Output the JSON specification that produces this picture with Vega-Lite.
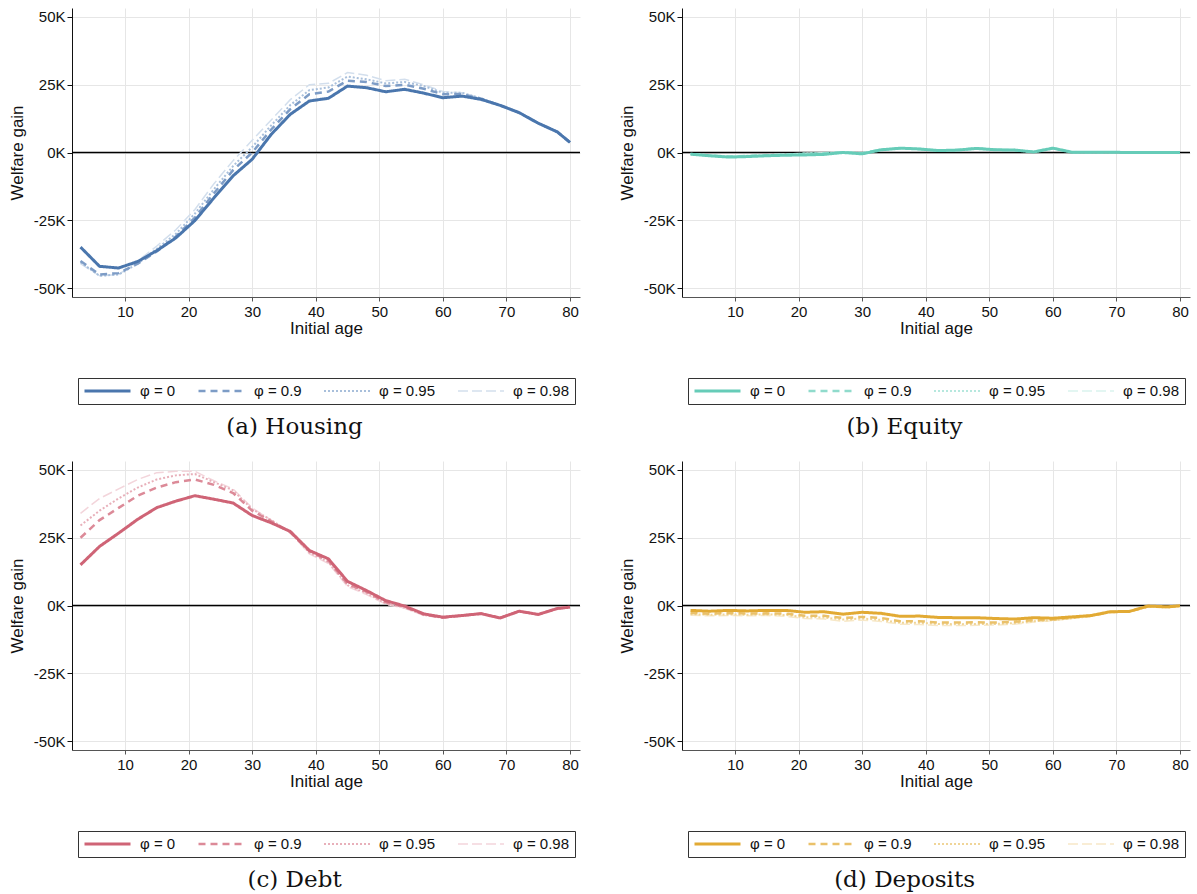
{
  "$schema": "https://vega.github.io/schema/vega-lite/v6.json",
  "background": "white",
  "padding": {"left": 8, "top": 8, "right": 5, "bottom": 0},
  "config": {
    "font": "Liberation Sans",
    "view": {"stroke": null},
    "axis": {
      "labelFontSize": 15,
      "titleFontSize": 17,
      "titleFontWeight": "normal",
      "labelColor": "#111",
      "titleColor": "#111",
      "gridColor": "#e6e6e6",
      "gridWidth": 1
    },
    "legend": {
      "orient": "bottom",
      "direction": "horizontal",
      "layout": {"anchor": "middle"},
      "strokeColor": "#333",
      "strokeWidth": 1,
      "padding": 5,
      "offset": 42,
      "symbolType": "stroke",
      "symbolSize": 2116,
      "clipHeight": 16,
      "labelFontSize": 15,
      "labelColor": "#111",
      "labelOffset": 8,
      "columnPadding": 21,
      "cornerRadius": 0
    },
    "title": {
      "orient": "bottom",
      "anchor": "middle",
      "frame": "bounds",
      "font": "DejaVu Serif",
      "fontSize": 23,
      "fontWeight": "normal",
      "color": "#111",
      "offset": 11
    }
  },
  "data": {
    "values": [
      {"p": "a", "age": 3, "s0": -34.9, "s90": -40.0, "s95": -40.5, "s98": -41.0},
      {"p": "a", "age": 6, "s0": -42.0, "s90": -45.0, "s95": -45.5, "s98": -45.5},
      {"p": "a", "age": 9, "s0": -42.6, "s90": -44.5, "s95": -45.0, "s98": -45.0},
      {"p": "a", "age": 12, "s0": -40.2, "s90": -41.0, "s95": -41.0, "s98": -40.0},
      {"p": "a", "age": 15, "s0": -36.2, "s90": -36.5, "s95": -35.5, "s98": -34.5},
      {"p": "a", "age": 18, "s0": -31.5, "s90": -31.0, "s95": -30.0, "s98": -28.5},
      {"p": "a", "age": 21, "s0": -25.1, "s90": -24.0, "s95": -22.5, "s98": -21.0},
      {"p": "a", "age": 24, "s0": -16.7, "s90": -15.0, "s95": -13.5, "s98": -11.5},
      {"p": "a", "age": 27, "s0": -8.6, "s90": -6.5, "s95": -5.0, "s98": -3.0},
      {"p": "a", "age": 30, "s0": -2.5, "s90": 0.0, "s95": 2.0, "s98": 4.5},
      {"p": "a", "age": 33, "s0": 6.7, "s90": 8.5, "s95": 10.0, "s98": 12.0},
      {"p": "a", "age": 36, "s0": 14.1, "s90": 16.0, "s95": 17.5, "s98": 19.5},
      {"p": "a", "age": 39, "s0": 19.0, "s90": 21.5, "s95": 23.0, "s98": 25.0},
      {"p": "a", "age": 42, "s0": 20.0, "s90": 22.5, "s95": 24.0, "s98": 25.5},
      {"p": "a", "age": 45, "s0": 24.5, "s90": 26.5, "s95": 28.0, "s98": 29.5},
      {"p": "a", "age": 48, "s0": 23.9, "s90": 26.0, "s95": 27.0, "s98": 28.5},
      {"p": "a", "age": 51, "s0": 22.4, "s90": 24.5, "s95": 25.5, "s98": 26.5},
      {"p": "a", "age": 54, "s0": 23.3, "s90": 25.0, "s95": 26.0, "s98": 27.0},
      {"p": "a", "age": 57, "s0": 21.9, "s90": 23.5, "s95": 24.5, "s98": 25.0},
      {"p": "a", "age": 60, "s0": 20.2, "s90": 21.5, "s95": 22.0, "s98": 22.5},
      {"p": "a", "age": 63, "s0": 20.8, "s90": 21.5, "s95": 22.0, "s98": 22.0},
      {"p": "a", "age": 66, "s0": 19.6, "s90": 19.8, "s95": 20.0, "s98": 20.0},
      {"p": "a", "age": 69, "s0": 17.4, "s90": 17.4, "s95": 17.4, "s98": 17.4},
      {"p": "a", "age": 72, "s0": 14.7, "s90": 14.7, "s95": 14.7, "s98": 14.7},
      {"p": "a", "age": 75, "s0": 10.8, "s90": 10.8, "s95": 10.8, "s98": 10.8},
      {"p": "a", "age": 78, "s0": 7.6, "s90": 7.6, "s95": 7.6, "s98": 7.6},
      {"p": "a", "age": 80, "s0": 3.7, "s90": 3.7, "s95": 3.7, "s98": 3.7},

      {"p": "b", "age": 3, "s0": -0.6, "s90": -0.6, "s95": -0.5, "s98": -0.5},
      {"p": "b", "age": 6, "s0": -1.2, "s90": -1.1, "s95": -1.0, "s98": -1.0},
      {"p": "b", "age": 9, "s0": -1.7, "s90": -1.5, "s95": -1.4, "s98": -1.3},
      {"p": "b", "age": 12, "s0": -1.5, "s90": -1.3, "s95": -1.2, "s98": -1.1},
      {"p": "b", "age": 15, "s0": -1.2, "s90": -1.0, "s95": -0.9, "s98": -0.8},
      {"p": "b", "age": 18, "s0": -1.0, "s90": -0.8, "s95": -0.7, "s98": -0.6},
      {"p": "b", "age": 21, "s0": -0.9, "s90": -0.5, "s95": -0.4, "s98": -0.3},
      {"p": "b", "age": 24, "s0": -0.7, "s90": -0.3, "s95": -0.2, "s98": -0.1},
      {"p": "b", "age": 27, "s0": 0.0, "s90": 0.1, "s95": 0.1, "s98": 0.2},
      {"p": "b", "age": 30, "s0": -0.5, "s90": -0.3, "s95": -0.2, "s98": -0.1},
      {"p": "b", "age": 33, "s0": 1.0, "s90": 1.0, "s95": 1.1, "s98": 1.1},
      {"p": "b", "age": 36, "s0": 1.6, "s90": 1.6, "s95": 1.6, "s98": 1.6},
      {"p": "b", "age": 39, "s0": 1.3, "s90": 1.3, "s95": 1.3, "s98": 1.3},
      {"p": "b", "age": 42, "s0": 0.7, "s90": 0.7, "s95": 0.7, "s98": 0.7},
      {"p": "b", "age": 45, "s0": 0.9, "s90": 0.9, "s95": 0.9, "s98": 0.9},
      {"p": "b", "age": 48, "s0": 1.5, "s90": 1.5, "s95": 1.5, "s98": 1.5},
      {"p": "b", "age": 51, "s0": 1.0, "s90": 1.0, "s95": 1.0, "s98": 1.0},
      {"p": "b", "age": 54, "s0": 0.9, "s90": 0.9, "s95": 0.9, "s98": 0.9},
      {"p": "b", "age": 57, "s0": 0.2, "s90": 0.2, "s95": 0.2, "s98": 0.2},
      {"p": "b", "age": 60, "s0": 1.6, "s90": 1.6, "s95": 1.6, "s98": 1.6},
      {"p": "b", "age": 63, "s0": 0.1, "s90": 0.1, "s95": 0.1, "s98": 0.1},
      {"p": "b", "age": 66, "s0": 0.1, "s90": 0.1, "s95": 0.1, "s98": 0.1},
      {"p": "b", "age": 69, "s0": 0.1, "s90": 0.1, "s95": 0.1, "s98": 0.1},
      {"p": "b", "age": 72, "s0": 0.0, "s90": 0.0, "s95": 0.0, "s98": 0.0},
      {"p": "b", "age": 75, "s0": 0.0, "s90": 0.0, "s95": 0.0, "s98": 0.0},
      {"p": "b", "age": 78, "s0": 0.0, "s90": 0.0, "s95": 0.0, "s98": 0.0},
      {"p": "b", "age": 80, "s0": 0.0, "s90": 0.0, "s95": 0.0, "s98": 0.0},

      {"p": "c", "age": 3, "s0": 15.0, "s90": 25.0, "s95": 29.5, "s98": 34.0},
      {"p": "c", "age": 6, "s0": 21.8, "s90": 31.5, "s95": 35.0, "s98": 39.5},
      {"p": "c", "age": 9, "s0": 26.7, "s90": 36.0, "s95": 39.5, "s98": 43.0},
      {"p": "c", "age": 12, "s0": 31.8, "s90": 40.5, "s95": 43.5, "s98": 46.5},
      {"p": "c", "age": 15, "s0": 36.1, "s90": 43.5, "s95": 46.5, "s98": 49.0},
      {"p": "c", "age": 18, "s0": 38.5, "s90": 45.5, "s95": 48.0, "s98": 49.5},
      {"p": "c", "age": 21, "s0": 40.5, "s90": 46.5, "s95": 48.5, "s98": 49.5},
      {"p": "c", "age": 24, "s0": 39.2, "s90": 44.5, "s95": 45.5, "s98": 46.0},
      {"p": "c", "age": 27, "s0": 37.8, "s90": 41.5, "s95": 42.5, "s98": 43.0},
      {"p": "c", "age": 30, "s0": 33.2, "s90": 35.0, "s95": 35.5, "s98": 36.0},
      {"p": "c", "age": 33, "s0": 30.5, "s90": 31.0, "s95": 31.5, "s98": 31.5},
      {"p": "c", "age": 36, "s0": 27.3, "s90": 27.0, "s95": 27.0, "s98": 27.0},
      {"p": "c", "age": 39, "s0": 20.3, "s90": 20.0, "s95": 19.5, "s98": 19.0},
      {"p": "c", "age": 42, "s0": 17.2, "s90": 16.5, "s95": 16.0, "s98": 15.5},
      {"p": "c", "age": 45, "s0": 8.9, "s90": 8.0, "s95": 7.5, "s98": 7.0},
      {"p": "c", "age": 48, "s0": 5.5, "s90": 5.0, "s95": 4.5, "s98": 4.0},
      {"p": "c", "age": 51, "s0": 1.8, "s90": 1.2, "s95": 0.8, "s98": 0.5},
      {"p": "c", "age": 54, "s0": -0.2, "s90": -0.5, "s95": -0.8, "s98": -1.0},
      {"p": "c", "age": 57, "s0": -3.1, "s90": -3.3, "s95": -3.5, "s98": -3.7},
      {"p": "c", "age": 60, "s0": -4.3, "s90": -4.5, "s95": -4.5, "s98": -4.6},
      {"p": "c", "age": 63, "s0": -3.7, "s90": -3.7, "s95": -3.7, "s98": -3.7},
      {"p": "c", "age": 66, "s0": -3.0, "s90": -3.0, "s95": -3.0, "s98": -3.0},
      {"p": "c", "age": 69, "s0": -4.6, "s90": -4.6, "s95": -4.6, "s98": -4.6},
      {"p": "c", "age": 72, "s0": -2.1, "s90": -2.1, "s95": -2.1, "s98": -2.1},
      {"p": "c", "age": 75, "s0": -3.3, "s90": -3.3, "s95": -3.3, "s98": -3.3},
      {"p": "c", "age": 78, "s0": -1.1, "s90": -1.1, "s95": -1.1, "s98": -1.1},
      {"p": "c", "age": 80, "s0": -0.6, "s90": -0.6, "s95": -0.6, "s98": -0.6},

      {"p": "d", "age": 3, "s0": -1.8, "s90": -2.8, "s95": -3.2, "s98": -3.6},
      {"p": "d", "age": 6, "s0": -2.1, "s90": -3.0, "s95": -3.4, "s98": -3.8},
      {"p": "d", "age": 9, "s0": -1.8, "s90": -2.8, "s95": -3.3, "s98": -3.7},
      {"p": "d", "age": 12, "s0": -2.0, "s90": -3.0, "s95": -3.4, "s98": -3.8},
      {"p": "d", "age": 15, "s0": -1.8, "s90": -2.9, "s95": -3.3, "s98": -3.7},
      {"p": "d", "age": 18, "s0": -1.8, "s90": -3.0, "s95": -3.5, "s98": -4.0},
      {"p": "d", "age": 21, "s0": -2.5, "s90": -3.8, "s95": -4.3, "s98": -4.8},
      {"p": "d", "age": 24, "s0": -2.3, "s90": -3.8, "s95": -4.4, "s98": -5.0},
      {"p": "d", "age": 27, "s0": -3.2, "s90": -4.6, "s95": -5.2, "s98": -5.8},
      {"p": "d", "age": 30, "s0": -2.5, "s90": -4.2, "s95": -4.8, "s98": -5.4},
      {"p": "d", "age": 33, "s0": -2.9, "s90": -4.6, "s95": -5.3, "s98": -5.9},
      {"p": "d", "age": 36, "s0": -4.0, "s90": -5.8, "s95": -6.4, "s98": -6.9},
      {"p": "d", "age": 39, "s0": -3.9, "s90": -5.8, "s95": -6.4, "s98": -7.0},
      {"p": "d", "age": 42, "s0": -4.4, "s90": -6.3, "s95": -6.8, "s98": -7.4},
      {"p": "d", "age": 45, "s0": -4.5, "s90": -6.3, "s95": -6.9, "s98": -7.4},
      {"p": "d", "age": 48, "s0": -4.5, "s90": -6.2, "s95": -6.8, "s98": -7.3},
      {"p": "d", "age": 51, "s0": -4.8, "s90": -6.3, "s95": -6.8, "s98": -7.2},
      {"p": "d", "age": 54, "s0": -5.0, "s90": -6.0, "s95": -6.5, "s98": -6.9},
      {"p": "d", "age": 57, "s0": -4.5, "s90": -5.4, "s95": -5.8, "s98": -6.1},
      {"p": "d", "age": 60, "s0": -4.7, "s90": -5.2, "s95": -5.4, "s98": -5.6},
      {"p": "d", "age": 63, "s0": -4.2, "s90": -4.5, "s95": -4.7, "s98": -4.8},
      {"p": "d", "age": 66, "s0": -3.7, "s90": -3.8, "s95": -3.9, "s98": -4.0},
      {"p": "d", "age": 69, "s0": -2.3, "s90": -2.4, "s95": -2.5, "s98": -2.5},
      {"p": "d", "age": 72, "s0": -2.2, "s90": -2.2, "s95": -2.3, "s98": -2.3},
      {"p": "d", "age": 75, "s0": -0.2, "s90": -0.3, "s95": -0.4, "s98": -0.5},
      {"p": "d", "age": 78, "s0": -0.5, "s90": -0.6, "s95": -0.7, "s98": -0.8},
      {"p": "d", "age": 80, "s0": -0.1, "s90": -0.2, "s95": -0.2, "s98": -0.3}
    ]
  },
  "vconcat": [
    {
      "hconcat": [
        {
          "title": "(a) Housing",
          "width": 508,
          "height": 289,
          "layer": [
            {
              "data": {"values": [{"zero": 0}]},
              "mark": {"type": "rule", "color": "black", "strokeWidth": 1.6},
              "encoding": {"y": {"field": "zero", "type": "quantitative"}}
            },
            {
              "transform": [
                {"filter": "datum.p == 'a'"},
                {"fold": ["s98", "s95", "s90", "s0"], "as": ["phi", "g"]}
              ],
              "mark": {"type": "line"},
              "encoding": {
                "x": {"field": "age", "type": "quantitative", "scale": {"domain": [1.66, 81.57], "nice": false, "zero": false},
                  "axis": {"title": "Initial age", "values": [10, 20, 30, 40, 50, 60, 70, 80], "grid": true, "domainColor": "#555", "tickColor": "#555", "tickSize": 4, "labelPadding": 3, "titlePadding": 1}},
                "y": {"field": "g", "type": "quantitative", "scale": {"domain": [-53.3, 53.3], "nice": false},
                  "axis": {"title": "Welfare gain", "values": [-50, -25, 0, 25, 50], "labelExpr": "datum.value + 'K'", "grid": true, "domainColor": "#111", "tickColor": "#111", "tickSize": 5, "labelPadding": 2, "titlePadding": 7}},
                "color": {"field": "phi", "type": "nominal", "scale": {"domain": ["s0", "s90", "s95", "s98"], "range": ["#4a76ad", "#7d9cc6", "#a8bfdb", "#d3dfed"]},
                  "legend": {"title": null, "labelExpr": "datum.label == 's0' ? 'φ = 0' : datum.label == 's90' ? 'φ = 0.9' : datum.label == 's95' ? 'φ = 0.95' : 'φ = 0.98'"}},
                "strokeDash": {"field": "phi", "type": "nominal", "scale": {"domain": ["s0", "s90", "s95", "s98"], "range": [[1, 0], [7, 5], [2, 2], [10, 4]]},
                  "legend": {"title": null, "labelExpr": "datum.label == 's0' ? 'φ = 0' : datum.label == 's90' ? 'φ = 0.9' : datum.label == 's95' ? 'φ = 0.95' : 'φ = 0.98'"}},
                "strokeWidth": {"field": "phi", "type": "nominal", "scale": {"domain": ["s0", "s90", "s95", "s98"], "range": [3, 1.5, 1.5, 1.5]},
                  "legend": {"title": null, "labelExpr": "datum.label == 's0' ? 'φ = 0' : datum.label == 's90' ? 'φ = 0.9' : datum.label == 's95' ? 'φ = 0.95' : 'φ = 0.98'"}}
              }
            }
          ]
        },
        {
          "title": "(b) Equity",
          "width": 508,
          "height": 289,
          "layer": [
            {
              "data": {"values": [{"zero": 0}]},
              "mark": {"type": "rule", "color": "black", "strokeWidth": 1.6},
              "encoding": {"y": {"field": "zero", "type": "quantitative"}}
            },
            {
              "transform": [
                {"filter": "datum.p == 'b'"},
                {"fold": ["s98", "s95", "s90", "s0"], "as": ["phi", "g"]}
              ],
              "mark": {"type": "line"},
              "encoding": {
                "x": {"field": "age", "type": "quantitative", "scale": {"domain": [1.66, 81.57], "nice": false, "zero": false},
                  "axis": {"title": "Initial age", "values": [10, 20, 30, 40, 50, 60, 70, 80], "grid": true, "domainColor": "#555", "tickColor": "#555", "tickSize": 4, "labelPadding": 3, "titlePadding": 1}},
                "y": {"field": "g", "type": "quantitative", "scale": {"domain": [-53.3, 53.3], "nice": false},
                  "axis": {"title": "Welfare gain", "values": [-50, -25, 0, 25, 50], "labelExpr": "datum.value + 'K'", "grid": true, "domainColor": "#111", "tickColor": "#111", "tickSize": 5, "labelPadding": 2, "titlePadding": 7}},
                "color": {"field": "phi", "type": "nominal", "scale": {"domain": ["s0", "s90", "s95", "s98"], "range": ["#66ccb8", "#90dbcc", "#b6e8de", "#daf3ee"]},
                  "legend": {"title": null, "labelExpr": "datum.label == 's0' ? 'φ = 0' : datum.label == 's90' ? 'φ = 0.9' : datum.label == 's95' ? 'φ = 0.95' : 'φ = 0.98'"}},
                "strokeDash": {"field": "phi", "type": "nominal", "scale": {"domain": ["s0", "s90", "s95", "s98"], "range": [[1, 0], [7, 5], [2, 2], [10, 4]]},
                  "legend": {"title": null, "labelExpr": "datum.label == 's0' ? 'φ = 0' : datum.label == 's90' ? 'φ = 0.9' : datum.label == 's95' ? 'φ = 0.95' : 'φ = 0.98'"}},
                "strokeWidth": {"field": "phi", "type": "nominal", "scale": {"domain": ["s0", "s90", "s95", "s98"], "range": [3, 1.5, 1.5, 1.5]},
                  "legend": {"title": null, "labelExpr": "datum.label == 's0' ? 'φ = 0' : datum.label == 's90' ? 'φ = 0.9' : datum.label == 's95' ? 'φ = 0.95' : 'φ = 0.98'"}}
              }
            }
          ]
        }
      ],
      "spacing": 37,
      "resolve": {"scale": {"x": "independent", "y": "independent", "color": "independent", "strokeDash": "independent", "strokeWidth": "independent"}, "legend": {"color": "independent", "strokeDash": "independent", "strokeWidth": "independent"}}
    },
    {
      "hconcat": [
        {
          "title": "(c) Debt",
          "width": 508,
          "height": 289,
          "layer": [
            {
              "data": {"values": [{"zero": 0}]},
              "mark": {"type": "rule", "color": "black", "strokeWidth": 1.6},
              "encoding": {"y": {"field": "zero", "type": "quantitative"}}
            },
            {
              "transform": [
                {"filter": "datum.p == 'c'"},
                {"fold": ["s98", "s95", "s90", "s0"], "as": ["phi", "g"]}
              ],
              "mark": {"type": "line"},
              "encoding": {
                "x": {"field": "age", "type": "quantitative", "scale": {"domain": [1.66, 81.57], "nice": false, "zero": false},
                  "axis": {"title": "Initial age", "values": [10, 20, 30, 40, 50, 60, 70, 80], "grid": true, "domainColor": "#555", "tickColor": "#555", "tickSize": 4, "labelPadding": 3, "titlePadding": 1}},
                "y": {"field": "g", "type": "quantitative", "scale": {"domain": [-53.3, 53.3], "nice": false},
                  "axis": {"title": "Welfare gain", "values": [-50, -25, 0, 25, 50], "labelExpr": "datum.value + 'K'", "grid": true, "domainColor": "#111", "tickColor": "#111", "tickSize": 5, "labelPadding": 2, "titlePadding": 7}},
                "color": {"field": "phi", "type": "nominal", "scale": {"domain": ["s0", "s90", "s95", "s98"], "range": ["#cf6476", "#dc8a98", "#e8b0ba", "#f3d5db"]},
                  "legend": {"title": null, "labelExpr": "datum.label == 's0' ? 'φ = 0' : datum.label == 's90' ? 'φ = 0.9' : datum.label == 's95' ? 'φ = 0.95' : 'φ = 0.98'"}},
                "strokeDash": {"field": "phi", "type": "nominal", "scale": {"domain": ["s0", "s90", "s95", "s98"], "range": [[1, 0], [7, 5], [2, 2], [10, 4]]},
                  "legend": {"title": null, "labelExpr": "datum.label == 's0' ? 'φ = 0' : datum.label == 's90' ? 'φ = 0.9' : datum.label == 's95' ? 'φ = 0.95' : 'φ = 0.98'"}},
                "strokeWidth": {"field": "phi", "type": "nominal", "scale": {"domain": ["s0", "s90", "s95", "s98"], "range": [3, 1.5, 1.5, 1.5]},
                  "legend": {"title": null, "labelExpr": "datum.label == 's0' ? 'φ = 0' : datum.label == 's90' ? 'φ = 0.9' : datum.label == 's95' ? 'φ = 0.95' : 'φ = 0.98'"}}
              }
            }
          ]
        },
        {
          "title": "(d) Deposits",
          "width": 508,
          "height": 289,
          "layer": [
            {
              "data": {"values": [{"zero": 0}]},
              "mark": {"type": "rule", "color": "black", "strokeWidth": 1.6},
              "encoding": {"y": {"field": "zero", "type": "quantitative"}}
            },
            {
              "transform": [
                {"filter": "datum.p == 'd'"},
                {"fold": ["s98", "s95", "s90", "s0"], "as": ["phi", "g"]}
              ],
              "mark": {"type": "line"},
              "encoding": {
                "x": {"field": "age", "type": "quantitative", "scale": {"domain": [1.66, 81.57], "nice": false, "zero": false},
                  "axis": {"title": "Initial age", "values": [10, 20, 30, 40, 50, 60, 70, 80], "grid": true, "domainColor": "#555", "tickColor": "#555", "tickSize": 4, "labelPadding": 3, "titlePadding": 1}},
                "y": {"field": "g", "type": "quantitative", "scale": {"domain": [-53.3, 53.3], "nice": false},
                  "axis": {"title": "Welfare gain", "values": [-50, -25, 0, 25, 50], "labelExpr": "datum.value + 'K'", "grid": true, "domainColor": "#111", "tickColor": "#111", "tickSize": 5, "labelPadding": 2, "titlePadding": 7}},
                "color": {"field": "phi", "type": "nominal", "scale": {"domain": ["s0", "s90", "s95", "s98"], "range": ["#e2aa34", "#eac16a", "#f0d598", "#f7e8c8"]},
                  "legend": {"title": null, "labelExpr": "datum.label == 's0' ? 'φ = 0' : datum.label == 's90' ? 'φ = 0.9' : datum.label == 's95' ? 'φ = 0.95' : 'φ = 0.98'"}},
                "strokeDash": {"field": "phi", "type": "nominal", "scale": {"domain": ["s0", "s90", "s95", "s98"], "range": [[1, 0], [7, 5], [2, 2], [10, 4]]},
                  "legend": {"title": null, "labelExpr": "datum.label == 's0' ? 'φ = 0' : datum.label == 's90' ? 'φ = 0.9' : datum.label == 's95' ? 'φ = 0.95' : 'φ = 0.98'"}},
                "strokeWidth": {"field": "phi", "type": "nominal", "scale": {"domain": ["s0", "s90", "s95", "s98"], "range": [3, 1.5, 1.5, 1.5]},
                  "legend": {"title": null, "labelExpr": "datum.label == 's0' ? 'φ = 0' : datum.label == 's90' ? 'φ = 0.9' : datum.label == 's95' ? 'φ = 0.95' : 'φ = 0.98'"}}
              }
            }
          ]
        }
      ],
      "spacing": 37,
      "resolve": {"scale": {"x": "independent", "y": "independent", "color": "independent", "strokeDash": "independent", "strokeWidth": "independent"}, "legend": {"color": "independent", "strokeDash": "independent", "strokeWidth": "independent"}}
    }
  ],
  "spacing": 22,
  "resolve": {"scale": {"x": "independent", "y": "independent", "color": "independent", "strokeDash": "independent", "strokeWidth": "independent"}, "legend": {"color": "independent", "strokeDash": "independent", "strokeWidth": "independent"}}
}
